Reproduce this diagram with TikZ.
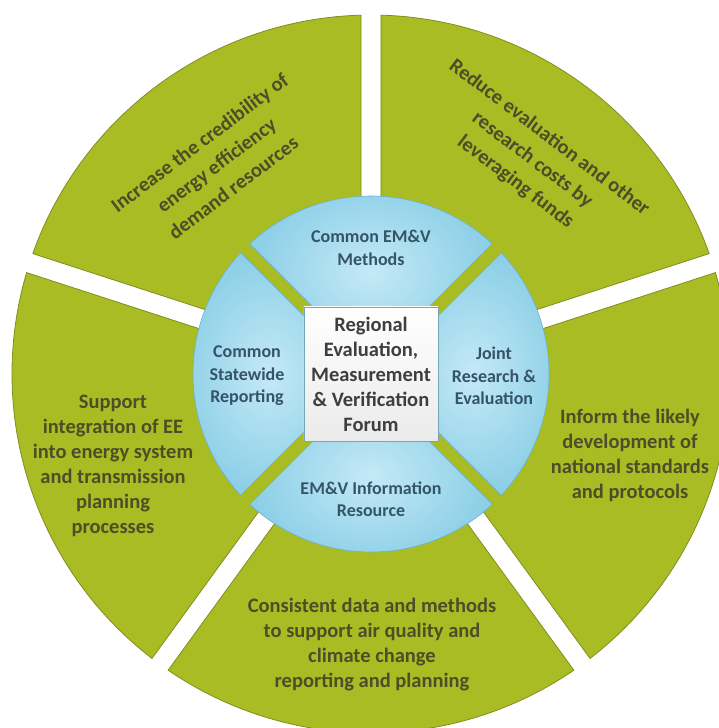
\documentclass[tikz,border=0pt]{standalone}
\usepackage{color}
\usepackage{tikz}
\usepackage{fontspec}
\setmainfont{Carlito}

\definecolor{leaf}{RGB}{170,188,36}
\definecolor{leafedge}{RGB}{128,142,30}
\definecolor{leaftext}{RGB}{76,78,40}
\definecolor{skyedge}{RGB}{140,207,231}
\definecolor{skyin}{RGB}{196,233,246}
\definecolor{skyline}{RGB}{105,178,208}
\definecolor{skytext}{RGB}{52,84,104}
\definecolor{forumline}{RGB}{120,165,180}
\definecolor{forumtext}{RGB}{62,62,62}

\tikzset{
  wedge/.style={draw=leafedge,line width=0.8pt,fill=leaf},
  segment/.style={draw=skyline,line width=0.6pt,inner color=skyin,outer color=skyedge},
  goal/.style={text=leaftext,font=\bfseries\fontsize{20.5}{25}\selectfont,align=center},
  tiltgoal/.style={goal,font=\bfseries\fontsize{20.5}{28}\selectfont},
  pillar/.style={text=skytext,font=\bfseries\fontsize{18}{22.5}\selectfont,align=center},
  forum/.style={draw=forumline,line width=0.8pt,top color=white,bottom color=black!8,
    minimum size=134pt,inner sep=0pt,text=forumtext,
    font=\bfseries\fontsize{20.5}{25}\selectfont,align=center}
}

\begin{document}
\begin{tikzpicture}[x=1pt,y=1pt]
\useasboundingbox (-371,-354) rectangle (348,374);
% objects at depth 50: outer ring, five wedges with white gaps
\foreach \c in {54,126,198,270,342}
  \path[wedge,rotate=\c] (17.01,0) -- ({-36+asin(10/359)}:359)
    arc[start angle={-36+asin(10/359)},end angle={36-asin(10/359)},radius=359] -- cycle;
\path[fill=leaf] (0,0) circle[radius=177];
% objects at depth 40: four blue segments
\foreach \c in {0,90,180,270}
  \path[segment,rotate=\c] (9.19,0) -- ({-45+asin(6.5/178)}:178)
    arc[start angle={-45+asin(6.5/178)},end angle={45-asin(6.5/178)},radius=178] -- cycle;
% objects at depth 30: centre box
\node[forum] (forum) at (0,0) {Regional\\Evaluation,\\Measurement\\\& Verification\\Forum};
% objects at depth 20: texts
\node[pillar] (methods) at (0,126) {Common EM\&V\\Methods};
\node[pillar] (statewide) at (-124,-2) {Common\\Statewide\\Reporting};
\node[pillar] (joint) at (123,-2) {Joint\\Research \&\\Evaluation};
\node[pillar] (resource) at (0,-125) {EM\&V Information\\Resource};
\node[tiltgoal,rotate=37] (credibility) at (126.5:260) {Increase the credibility of\\energy efficiency\\demand resources};
\node[tiltgoal,rotate=-37] (leverage) at (53:268) {Reduce evaluation and other\\research costs by\\leveraging funds};
\node[goal] (integration) at (-258,-92) {Support\\integration of EE\\into energy system\\and transmission\\planning\\processes};
\node[goal] (climate) at (1,-271) {Consistent data and methods\\to support air quality and\\climate change\\reporting and planning};
\node[goal] (standards) at (259,-81) {Inform the likely\\development of\\national standards\\and protocols};
\end{tikzpicture}
\end{document}
